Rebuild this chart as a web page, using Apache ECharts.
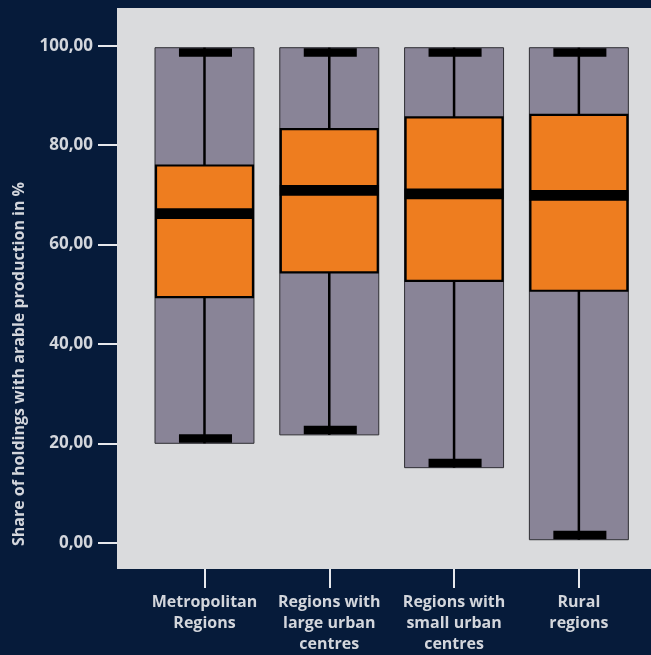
<!DOCTYPE html>
<html>
<head>
<meta charset="utf-8">
<script src="https://cdn.jsdelivr.net/npm/echarts@6/dist/echarts.min.js"></script>
<style>
    html, body {margin: 0; padding: 0; background: #061b3a;}
    #chart {width: 651px; height: 655px;}
</style>
</head>
<body>
<div id="chart"></div>
<script>
    // region types (x axis)
    const categories = ['Metropolitan\nRegions', 'Regions with\nlarge urban\ncentres', 'Regions with\nsmall urban\ncentres', 'Rural\nregions'];
    // box plot statistics, share in %
    const minVals = [20.0, 21.7, 15.1, 0.6];
    const q1Vals = [49.4, 54.4, 52.7, 50.7];
    const medianVals = [66.2, 70.9, 70.2, 69.9];
    const q3Vals = [75.9, 83.2, 85.6, 86.1];
    const maxVals = [99.6, 99.6, 99.6, 99.6];
    const yTicks = [0, 20, 40, 60, 80, 100];

    const textColor = '#d3d6dc';
    const font = '"Open Sans", sans-serif';

    const boxData = categories.map((c, i) => [i, minVals[i], q1Vals[i], medianVals[i], q3Vals[i], maxVals[i]]);

    function renderBox(params, api) {
        const x = api.value(0);
        const pMin = api.coord([x, api.value(1)]);
        const pQ1 = api.coord([x, api.value(2)]);
        const pMed = api.coord([x, api.value(3)]);
        const pQ3 = api.coord([x, api.value(4)]);
        const pMax = api.coord([x, api.value(5)]);
        const w = api.size([0.793, 0])[0];
        const capW = api.size([0.425, 0])[0];
        const cx = pMed[0];
        const capH = 8.5, medH = 10.7;
        return {
            type: 'group',
            children: [
                {type: 'rect', shape: {x: cx - w / 2, y: pMax[1], width: w, height: pMin[1] - pMax[1]},
                    style: {fill: '#898497', stroke: '#2e2e33', lineWidth: 1}},
                {type: 'line', shape: {x1: cx, y1: pMax[1], x2: cx, y2: pQ3[1]},
                    style: {stroke: '#000', lineWidth: 2.5}},
                {type: 'line', shape: {x1: cx, y1: pQ1[1], x2: cx, y2: pMin[1]},
                    style: {stroke: '#000', lineWidth: 2.5}},
                {type: 'rect', shape: {x: cx - capW / 2 + 1, y: pMax[1] + 0.5, width: capW, height: capH},
                    style: {fill: '#000'}},
                {type: 'rect', shape: {x: cx - capW / 2 + 1, y: pMin[1] - capH - 0.5, width: capW, height: capH},
                    style: {fill: '#000'}},
                {type: 'rect', shape: {x: cx - w / 2 + 1, y: pQ3[1], width: w - 2, height: pQ1[1] - pQ3[1]},
                    style: {fill: '#ee7d1f', stroke: '#000', lineWidth: 2.2}},
                {type: 'rect', shape: {x: cx - w / 2, y: pMed[1] - medH / 2, width: w, height: medH},
                    style: {fill: '#000'}}
            ]
        };
    }

    const chart = echarts.init(document.getElementById('chart'));
    chart.setOption({
        backgroundColor: '#061b3a',
        animation: false,
        grid: {
            left: 117, right: 0, top: 8, bottom: 86,
            show: true, backgroundColor: '#dadbdd', borderWidth: 0
        },
        // y axis title sits lower than the grid centre
        graphic: [{
            type: 'text', x: 19, y: 364, rotation: Math.PI / 2,
            style: {
                text: 'Share of holdings with arable production in %',
                fill: textColor, font: 'bold 16px "Open Sans", sans-serif',
                align: 'center', verticalAlign: 'middle'
            }
        }],
        xAxis: {
            type: 'value', min: -0.701, max: 3.578,
            splitLine: {show: false},
            axisLine: {show: false, onZero: false},
            axisTick: {show: true, length: 19, customValues: [0, 1, 2, 3], lineStyle: {color: '#e6e8ec', width: 2}},
            axisLabel: {
                customValues: [0, 1, 2, 3],
                formatter: v => categories[Math.round(v)],
                color: textColor, fontFamily: font, fontWeight: 'bold', fontSize: 16,
                lineHeight: 21, margin: 23
            }
        },
        yAxis: {
            type: 'value', min: -5.29, max: 107.59,
            splitLine: {show: false},
            axisLine: {show: false, onZero: false},
            axisTick: {show: true, length: 19, customValues: yTicks, lineStyle: {color: '#e6e8ec', width: 2}},
            axisLabel: {
                customValues: yTicks,
                formatter: v => v.toFixed(2).replace('.', ','),
                color: textColor, fontFamily: font, fontWeight: 'bold', fontSize: 17, margin: 24
            }
        },
        series: [{
            type: 'custom',
            renderItem: renderBox,
            encode: {x: 0, y: [1, 2, 3, 4, 5]},
            data: boxData
        }]
    });
</script>
</body>
</html>
